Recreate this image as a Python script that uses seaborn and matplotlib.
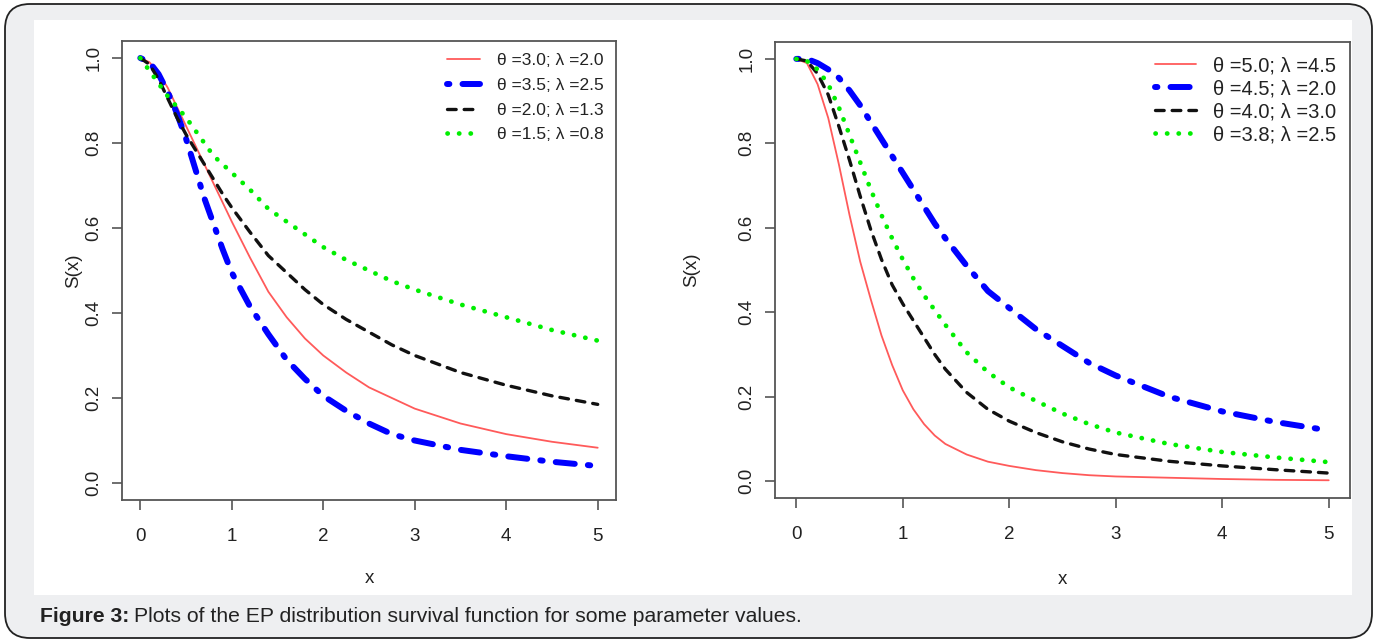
import numpy as np
import pandas as pd
import seaborn as sns
import matplotlib.pyplot as plt
from matplotlib.patches import FancyBboxPatch, Rectangle

sns.set_style("white")
plt.rcParams['font.family'] = ['Liberation Sans', 'DejaVu Sans']

# ---- data ----
x_left = [0, 0.1, 0.2, 0.3, 0.4, 0.5, 0.6, 0.7, 0.8, 0.9, 1.0, 1.2, 1.4, 1.6, 1.8, 2.0,
          2.25, 2.5, 2.75, 3.0, 3.5, 4.0, 4.5, 5.0]
left_red = [1.0, 0.99, 0.965, 0.93, 0.885, 0.84, 0.795, 0.75, 0.705, 0.66, 0.615, 0.53, 0.45,
            0.39, 0.34, 0.30, 0.26, 0.225, 0.2, 0.175, 0.14, 0.115, 0.097, 0.083]
left_blue = [1.0, 0.99, 0.962, 0.92, 0.87, 0.81, 0.74, 0.67, 0.61, 0.55, 0.495, 0.415, 0.35,
             0.29, 0.245, 0.205, 0.17, 0.14, 0.115, 0.10, 0.078, 0.063, 0.05, 0.04]
left_black = [1.0, 0.985, 0.95, 0.905, 0.86, 0.82, 0.785, 0.75, 0.715, 0.68, 0.648, 0.59, 0.535,
              0.495, 0.455, 0.42, 0.385, 0.355, 0.325, 0.30, 0.26, 0.23, 0.205, 0.185]
left_green = [1.0, 0.97, 0.94, 0.91, 0.885, 0.86, 0.83, 0.80, 0.77, 0.75, 0.73, 0.69, 0.645,
              0.615, 0.585, 0.555, 0.525, 0.50, 0.475, 0.455, 0.42, 0.39, 0.36, 0.335]
left_labels = ["\u03b8 =3.0; \u03bb =2.0", "\u03b8 =3.5; \u03bb =2.5",
               "\u03b8 =2.0; \u03bb =1.3", "\u03b8 =1.5; \u03bb =0.8"]

x_right = [0, 0.1, 0.2, 0.3, 0.4, 0.5, 0.6, 0.7, 0.8, 0.9, 1.0, 1.1, 1.2, 1.3, 1.4, 1.6, 1.8,
           2.0, 2.25, 2.5, 2.75, 3.0, 3.5, 4.0, 4.5, 5.0]
right_red = [1.0, 0.99, 0.94, 0.86, 0.75, 0.63, 0.52, 0.43, 0.345, 0.275, 0.215, 0.17, 0.135,
             0.108, 0.088, 0.063, 0.046, 0.036, 0.026, 0.019, 0.014, 0.011, 0.008, 0.005,
             0.003, 0.002]
right_blue = [1.0, 1.0, 0.99, 0.975, 0.955, 0.925, 0.89, 0.85, 0.81, 0.77, 0.73, 0.69, 0.65,
              0.61, 0.575, 0.51, 0.45, 0.41, 0.36, 0.32, 0.28, 0.25, 0.2, 0.165, 0.14, 0.12]
right_black = [1.0, 0.995, 0.965, 0.915, 0.84, 0.76, 0.675, 0.595, 0.525, 0.465, 0.42, 0.38,
               0.34, 0.30, 0.265, 0.21, 0.17, 0.142, 0.115, 0.093, 0.076, 0.063, 0.047, 0.036,
               0.027, 0.019]
right_green = [1.0, 0.995, 0.975, 0.94, 0.885, 0.82, 0.755, 0.69, 0.63, 0.575, 0.525, 0.48,
               0.44, 0.405, 0.37, 0.305, 0.258, 0.222, 0.19, 0.16, 0.135, 0.115, 0.088, 0.069,
               0.056, 0.045]
right_labels = ["\u03b8 =5.0; \u03bb =4.5", "\u03b8 =4.5; \u03bb =2.0",
                "\u03b8 =4.0; \u03bb =3.0", "\u03b8 =3.8; \u03bb =2.5"]

x_ticks = [0, 1, 2, 3, 4, 5]
y_ticks = [0.0, 0.2, 0.4, 0.6, 0.8, 1.0]

# line styles (R: lty 1, 4, 2, 3)
styles = [
    dict(color="#ff5a5a", lw=1.3, linestyle="-"),
    dict(color="#0000ff", lw=4.3, linestyle=(0, (0.4, 2.2, 3.2, 2.2))),
    dict(color="#111111", lw=2.4, linestyle=(0, (2.6, 2.4))),
    dict(color="#00ee00", lw=3.4, linestyle=(0, (0.05, 2.4))),
]

fig = plt.figure(figsize=(13.77, 6.43), dpi=100, facecolor="white")

# outer card and white panel (behind the axes)
card = FancyBboxPatch((0.05, 0.05), 13.67, 6.34, boxstyle="round,pad=0,rounding_size=0.25",
                      transform=fig.dpi_scale_trans, facecolor="#eeeff1", edgecolor="#222222",
                      linewidth=1.3, zorder=-3)
fig.patches.append(card)
panel = Rectangle((0.34, 0.48), 13.18, 5.75, transform=fig.dpi_scale_trans,
                  facecolor="white", edgecolor="none", zorder=-2)
fig.patches.append(panel)

W, H = 1377, 643
ax1 = fig.add_axes([122 / W, 1 - 500 / H, (616 - 122) / W, (500 - 41) / H])
ax2 = fig.add_axes([775 / W, 1 - 498 / H, (1350 - 775) / W, (498 - 42) / H])


def draw(ax, xs, series, labels, ylab_x, xlab_pad, leg_kw):
    for ys, st, lab in zip(series, styles, labels):
        df = pd.DataFrame({"x": xs, "y": ys})
        sns.lineplot(data=df, x="x", y="y", ax=ax, label=lab, color=st["color"], lw=st["lw"],
                     linestyle=st["linestyle"], dash_capstyle="round", solid_capstyle="round")
    ax.set_xlim(-0.2, 5.2)
    ax.set_ylim(-0.04, 1.04)
    ax.set_xticks(x_ticks)
    ax.set_xticklabels([str(t) for t in x_ticks])
    ax.set_yticks(y_ticks)
    ax.set_yticklabels([f"{t:.1f}" for t in y_ticks])
    ax.tick_params(axis="both", which="both", direction="out", length=7, width=1.2,
                   color="#555555", labelsize=13.5, labelcolor="#222222",
                   bottom=True, left=True)
    ax.tick_params(axis="x", pad=13)
    ax.tick_params(axis="y", pad=7, labelrotation=90)
    for lbl in ax.get_yticklabels():
        lbl.set_va("center")
    for sp in ax.spines.values():
        sp.set_color("#555555")
        sp.set_linewidth(1.3)
    ax.set_xlabel("x", fontsize=13.5, color="#222222", labelpad=xlab_pad)
    ax.set_ylabel("S(x)", fontsize=13.5, color="#222222")
    ax.yaxis.set_label_coords(ylab_x, 0.5)
    ax.set_facecolor("white")
    ax.legend(loc="upper right", frameon=False, labelcolor="#222222", **leg_kw)


draw(ax1, x_left, [left_red, left_blue, left_black, left_green], left_labels,
     -0.08, 18, dict(fontsize=12.5, handlelength=1.9, handletextpad=1.0,
                     labelspacing=0.55, borderaxespad=0.3))
draw(ax2, x_right, [right_red, right_blue, right_black, right_green], right_labels,
     -0.13, 20, dict(fontsize=14.5, handlelength=2.0, handletextpad=0.85,
                     labelspacing=0.2, borderaxespad=0.3))

# caption
t1 = fig.text(40 / W, 1 - 616 / H, "Figure 3:", fontsize=15.2, fontweight="bold",
              color="#222222", va="center", ha="left")
fig.canvas.draw()
bb = t1.get_window_extent()
fig.text((bb.x1 + 5) / W, 1 - 616 / H,
         "Plots of the EP distribution survival function for some parameter values.",
         fontsize=15.2, color="#222222", va="center", ha="left")

fig.savefig("out.png", dpi=100)
